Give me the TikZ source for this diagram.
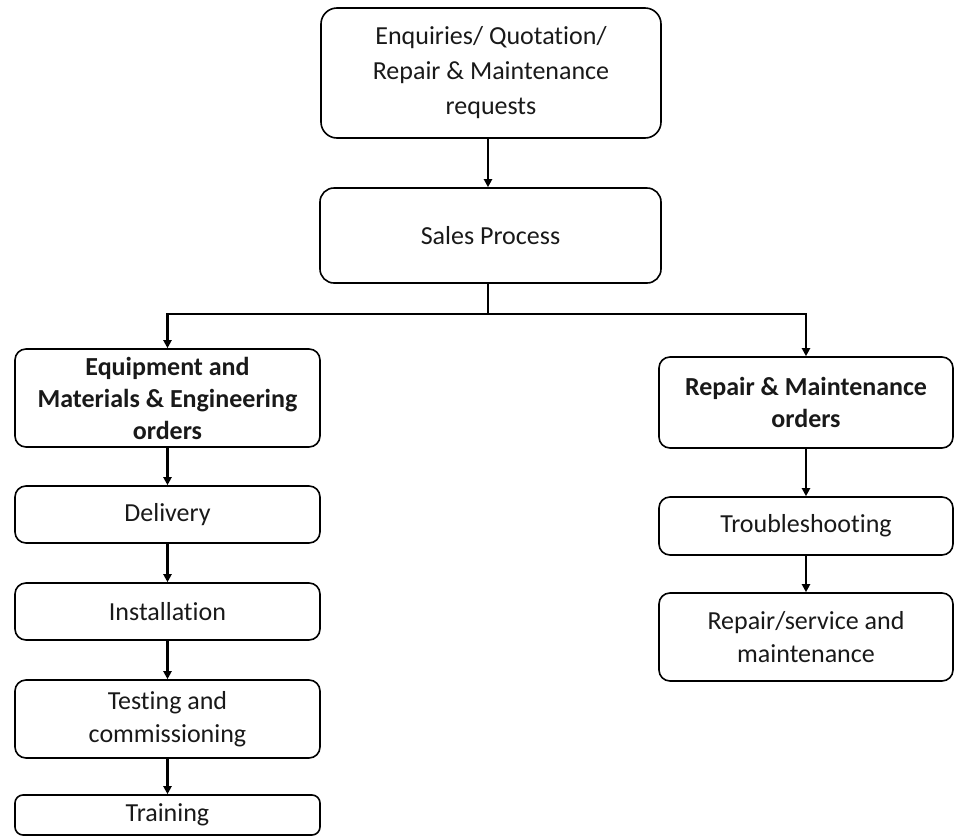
\documentclass[tikz,border=0pt]{standalone}
\usepackage{fontspec}
\setmainfont[Ligatures=NoCommon]{Carlito}
\usetikzlibrary{arrows.meta}
\begin{document}
\begin{tikzpicture}[x=1pt,y=-1pt,
  box/.style={draw=black, line width=1.6pt, rounded corners=11pt, align=center,
    inner sep=0pt, font=\fontsize{26}{33}\selectfont, text=black!90},
  arr/.style={line width=2.2pt, -{Triangle[length=8pt,width=8pt]}},
  ln/.style={line width=2.6pt}]
\useasboundingbox (0,0) rectangle (954,836);
\node[box, minimum width=340pt, minimum height=130pt, rounded corners=16pt, font=\fontsize{26}{35}\selectfont] (top) at (491,73)
  {Enquiries/ Quotation/\\Repair \& Maintenance\\requests};
\node[box, minimum width=341pt, minimum height=95pt, rounded corners=14pt] (sales) at (490.5,235.5) {Sales Process};
\node[box, minimum width=305pt, minimum height=98pt, font=\fontsize{26}{32}\selectfont\bfseries] (eq) at (167.5,398)
  {Equipment and\\Materials \& Engineering\\orders};
\node[box, minimum width=305pt, minimum height=57pt] (del) at (167.5,514.5) {Delivery};
\node[box, minimum width=305pt, minimum height=57pt] (ins) at (167.5,611.5) {Installation};
\node[box, minimum width=305pt, minimum height=78pt] (tst) at (167.5,719) {Testing and\\commissioning};
\node[box, minimum width=305pt, minimum height=40pt, rounded corners=8pt] (trn) at (167.5,815) {Training};
\node[box, minimum width=294pt, minimum height=91pt, font=\fontsize{26}{32}\selectfont\bfseries] (rm) at (806,402.5)
  {Repair \& Maintenance\\orders};
\node[box, minimum width=294pt, minimum height=58pt] (trb) at (806,526) {Troubleshooting};
\node[box, minimum width=294pt, minimum height=88pt] (rsm) at (806,637) {Repair/service and\\maintenance};
\coordinate (j) at (488,314);
\draw[arr] (top.south -| j) -- (sales.north -| j);
\draw[ln] (sales.south -| j) -- (j);
\draw[arr, line width=2.6pt] (j) -| (eq.north);
\draw[arr, line width=2.6pt] (j) -| (rm.north);
\draw[arr] (eq.south) -- (del.north);
\draw[arr] (del.south) -- (ins.north);
\draw[arr] (ins.south) -- (tst.north);
\draw[arr] (tst.south) -- (trn.north);
\draw[arr] (rm.south) -- (trb.north);
\draw[arr] (trb.south) -- (rsm.north);
\end{tikzpicture}
\end{document}
